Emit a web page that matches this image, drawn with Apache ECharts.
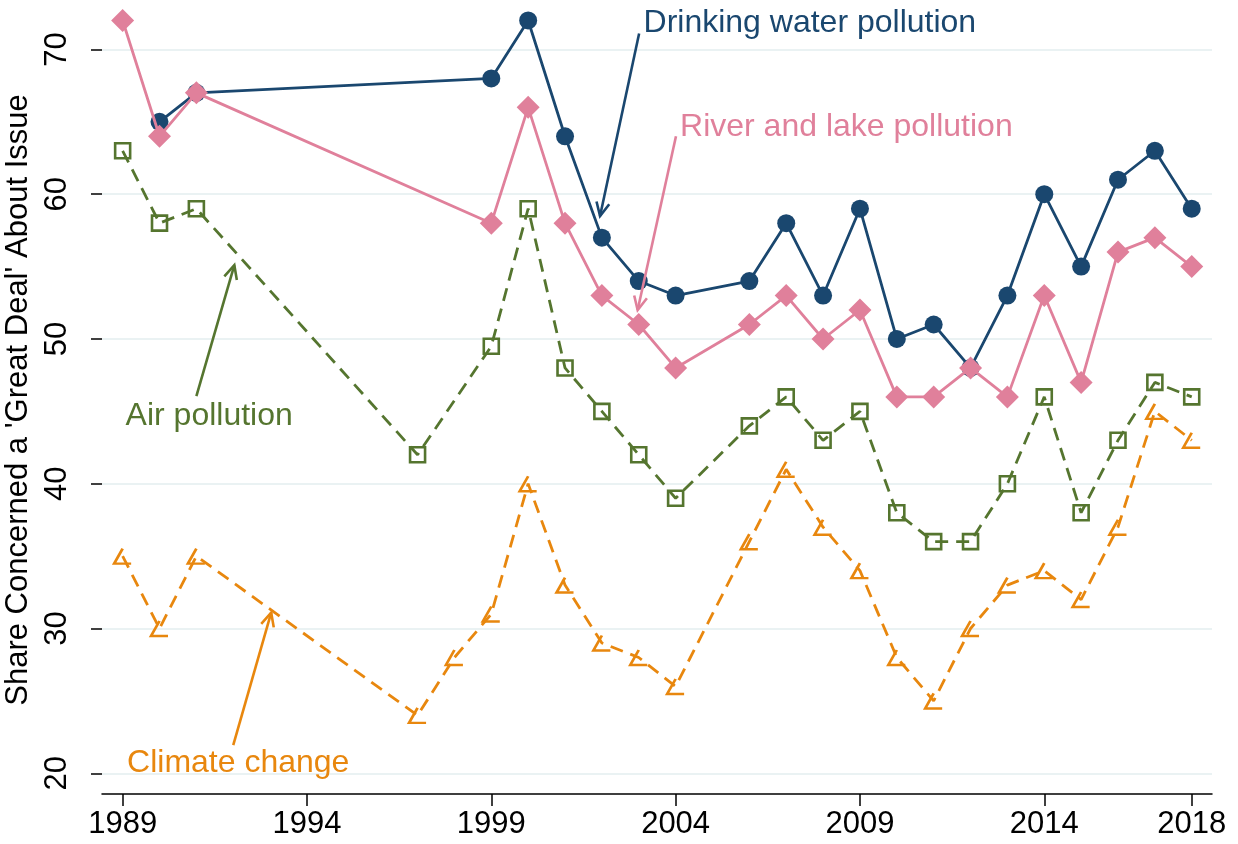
<!DOCTYPE html>
<html>
<head>
<meta charset="utf-8">
<script src="https://cdn.jsdelivr.net/npm/echarts@6/dist/echarts.min.js"></script>
<style>
  html, body { margin: 0; padding: 0; background: #fff; }
  #chart { width: 1238px; height: 844px; }
</style>
</head>
<body>
<div id="chart"></div>
<script>
// survey values: [year, share]
const drinkingWater = [
  [1990, 65], [1991, 67], [1999, 68], [2000, 72], [2001, 64], [2002, 57], [2003, 54],
  [2004, 53], [2006, 54], [2007, 58], [2008, 53], [2009, 59], [2010, 50], [2011, 51],
  [2012, 48], [2013, 53], [2014, 60], [2015, 55], [2016, 61], [2017, 63], [2018, 59]
];
const riverLake = [
  [1989, 72], [1990, 64], [1991, 67], [1999, 58], [2000, 66], [2001, 58], [2002, 53],
  [2003, 51], [2004, 48], [2006, 51], [2007, 53], [2008, 50], [2009, 52], [2010, 46],
  [2011, 46], [2012, 48], [2013, 46], [2014, 53], [2015, 47], [2016, 56], [2017, 57],
  [2018, 55]
];
const airPollution = [
  [1989, 63], [1990, 58], [1991, 59], [1997, 42], [1999, 49.5], [2000, 59], [2001, 48],
  [2002, 45], [2003, 42], [2004, 39], [2006, 44], [2007, 46], [2008, 43], [2009, 45],
  [2010, 38], [2011, 36], [2012, 36], [2013, 40], [2014, 46], [2015, 38], [2016, 43],
  [2017, 47], [2018, 46]
];
const climateChange = [
  [1989, 35], [1990, 30], [1991, 35], [1997, 24], [1998, 28], [1999, 31], [2000, 40],
  [2001, 33], [2002, 29], [2003, 28], [2004, 26], [2006, 36], [2007, 41], [2008, 37],
  [2009, 34], [2010, 28], [2011, 25], [2012, 30], [2013, 33], [2014, 34], [2015, 32],
  [2016, 37], [2017, 45], [2018, 43]
];

const xTicks = [1989, 1994, 1999, 2004, 2009, 2014, 2018];
const yTicks = [20, 30, 40, 50, 60, 70];

// annotations (data coords)
const annotationText = ['Drinking water pollution', 'River and lake pollution', 'Air pollution', 'Climate change'];
const annotationAt = [[2003.13, 71.8], [2004.12, 64.65], [1989.08, 44.7], [1989.12, 20.72]];
const arrowFrom = [[2003.01, 71.1], [2004.01, 64.0], [1991.0, 46.06], [1992.0, 21.95]];
const arrowTo = [[2001.95, 58.49], [2002.97, 52.0], [1992.03, 55.1], [1993.03, 31.1]];

const NAVY = '#1a476f', PINK = '#e0809b', GREEN = '#55752f', ORANGE = '#e8870e';
const annotationColors = [NAVY, PINK, GREEN, ORANGE];
const FONT = '"Liberation Sans", Arial, sans-serif';

const chart = echarts.init(document.getElementById('chart'));

function renderArrow(params, api) {
  const a = api.coord([api.value(0), api.value(1)]);
  const b = api.coord([api.value(2), api.value(3)]);
  const ang = Math.atan2(b[1] - a[1], b[0] - a[0]);
  const len = 15, spread = Math.PI / 7;
  const h1 = [b[0] - len * Math.cos(ang - spread), b[1] - len * Math.sin(ang - spread)];
  const h2 = [b[0] - len * Math.cos(ang + spread), b[1] - len * Math.sin(ang + spread)];
  const color = annotationColors[params.dataIndex];
  return {
    type: 'group',
    children: [
      { type: 'line', shape: { x1: a[0], y1: a[1], x2: b[0], y2: b[1] },
        style: { stroke: color, lineWidth: 2.6 } },
      { type: 'polyline', shape: { points: [h1, b, h2] },
        style: { stroke: color, lineWidth: 2.6, fill: null } }
    ]
  };
}

function renderNote(params, api) {
  const p = api.coord([api.value(0), api.value(1)]);
  return {
    type: 'text',
    x: p[0], y: p[1],
    style: {
      text: annotationText[params.dataIndex],
      fill: annotationColors[params.dataIndex],
      font: '32px ' + FONT,
      align: 'left',
      verticalAlign: 'middle'
    }
  };
}

chart.setOption({
  animation: false,
  backgroundColor: '#fff',
  textStyle: { fontFamily: FONT },
  grid: { left: 102, right: 26, top: 6, bottom: 50, outerBoundsMode: 'none', containLabel: false },
  xAxis: {
    type: 'value',
    min: 1988.44,
    max: 2018.55,
    axisLine: { lineStyle: { color: '#000', width: 1.5 } },
    axisTick: { length: 12, customValues: xTicks, lineStyle: { color: '#000', width: 1.5 } },
    axisLabel: {
      customValues: xTicks, color: '#000', fontSize: 31, margin: 15, fontFamily: FONT,
      formatter: v => String(v)
    },
    splitLine: { show: false }
  },
  yAxis: {
    type: 'value',
    min: 18.57,
    max: 73,
    name: "Share Concerned a 'Great Deal' About Issue",
    nameLocation: 'middle',
    nameGap: 62,
    nameTextStyle: { color: '#000', fontSize: 31, fontFamily: FONT },
    axisLine: { show: false },
    axisTick: { show: true, length: 11, customValues: yTicks, lineStyle: { color: '#000', width: 1.5 } },
    axisLabel: { customValues: yTicks, rotate: 90, color: '#000', fontSize: 31, margin: 29, fontFamily: FONT },
    splitLine: { show: true, lineStyle: { color: '#eaf2f3', width: 2 } }
  },
  series: [
    {
      name: 'Drinking water pollution',
      type: 'line',
      data: drinkingWater,
      symbol: 'circle',
      symbolSize: 18,
      itemStyle: { color: NAVY },
      lineStyle: { color: NAVY, width: 2.8 },
      z: 2
    },
    {
      name: 'River and lake pollution',
      type: 'line',
      data: riverLake,
      symbol: 'diamond',
      symbolSize: 23,
      itemStyle: { color: PINK },
      lineStyle: { color: PINK, width: 2.8 },
      z: 3
    },
    {
      name: 'Air pollution',
      type: 'line',
      data: airPollution,
      symbol: 'rect',
      symbolSize: 15,
      itemStyle: { color: 'transparent', borderColor: GREEN, borderWidth: 2.6 },
      lineStyle: { color: GREEN, width: 2.8, type: [13, 8] },
      z: 2
    },
    {
      name: 'Climate change',
      type: 'line',
      data: climateChange,
      symbol: 'path://M8,0 L0,14 L16,14',
      symbolSize: [17, 15],
      itemStyle: { color: 'transparent', borderColor: ORANGE, borderWidth: 2.6 },
      lineStyle: { color: ORANGE, width: 2.8, type: [13, 8] },
      z: 2
    },
    {
      type: 'custom',
      renderItem: renderArrow,
      data: arrowFrom.map((p, i) => [p[0], p[1], arrowTo[i][0], arrowTo[i][1]]),
      encode: { x: [0, 2], y: [1, 3] },
      silent: true,
      clip: false,
      z: 4
    },
    {
      type: 'custom',
      renderItem: renderNote,
      data: annotationAt,
      silent: true,
      clip: false,
      z: 4
    }
  ]
});
</script>
</body>
</html>
